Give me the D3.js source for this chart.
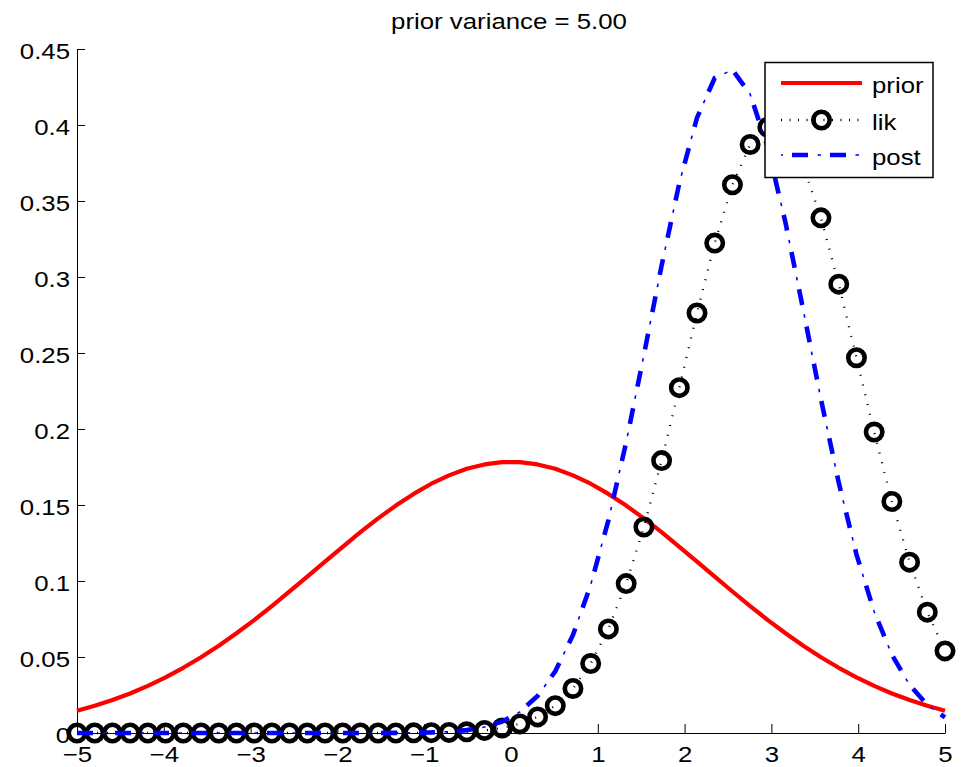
<!DOCTYPE html>
<html>
<head>
<meta charset="utf-8">
<script src="https://cdn.jsdelivr.net/npm/d3@7"></script>
<style>
  html, body { margin: 0; padding: 0; background: #fff; }
  svg { display: block; }
  text { font-family: "Liberation Sans", Arial, Helvetica, sans-serif; fill: #000; }
</style>
</head>
<body>
<svg id="chart" width="966" height="767"></svg>
<script>
// grid of 50 points from -5 to 5
const xGrid = [-5, -4.796, -4.592, -4.388, -4.184, -3.980, -3.776, -3.571, -3.367, -3.163,
  -2.959, -2.755, -2.551, -2.347, -2.143, -1.939, -1.735, -1.531, -1.327, -1.122,
  -0.918, -0.714, -0.510, -0.306, -0.102, 0.102, 0.306, 0.510, 0.714, 0.918,
  1.122, 1.327, 1.531, 1.735, 1.939, 2.143, 2.347, 2.551, 2.755, 2.959,
  3.163, 3.367, 3.571, 3.776, 3.980, 4.184, 4.388, 4.592, 4.796, 5];

const priorVals = [0.0146, 0.0179, 0.0217, 0.0260, 0.0310, 0.0366, 0.0429, 0.0498, 0.0574, 0.0656,
  0.0743, 0.0835, 0.0931, 0.1029, 0.1127, 0.1225, 0.1321, 0.1412, 0.1496, 0.1573,
  0.1640, 0.1695, 0.1738, 0.1767, 0.1782, 0.1782, 0.1767, 0.1738, 0.1695, 0.1640,
  0.1573, 0.1496, 0.1412, 0.1321, 0.1225, 0.1127, 0.1029, 0.0931, 0.0835, 0.0743,
  0.0656, 0.0574, 0.0498, 0.0429, 0.0366, 0.0310, 0.0260, 0.0217, 0.0179, 0.0146];

const likVals = [0, 0, 0, 0, 0, 0, 0, 0, 0, 0,
  0, 0, 0, 0, 0, 0, 0, 0, 0, 0.0001,
  0.0002, 0.0004, 0.0008, 0.0017, 0.0033, 0.0060, 0.0106, 0.0180, 0.0293, 0.0457,
  0.0685, 0.0983, 0.1355, 0.1792, 0.2272, 0.2763, 0.3223, 0.3607, 0.3872, 0.3986,
  0.3937, 0.3729, 0.3389, 0.2953, 0.2469, 0.1980, 0.1523, 0.1124, 0.0795, 0.0540];

const postVals = [0, 0, 0, 0, 0, 0, 0, 0, 0, 0,
  0, 0, 0, 0, 0, 0, 0, 0, 0.0001, 0.0002,
  0.0004, 0.0009, 0.0019, 0.0039, 0.0075, 0.0139, 0.0243, 0.0406, 0.0645, 0.0974,
  0.1399, 0.1913, 0.2487, 0.3075, 0.3617, 0.4048, 0.4309, 0.4363, 0.4203, 0.3851,
  0.3356, 0.2783, 0.2195, 0.1647, 0.1175, 0.0798, 0.0515, 0.0316, 0.0185, 0.0103];

const seriesNames = ["prior", "lik", "post"];
const titleText = "prior variance = 5.00";

const xTicks = [-5, -4, -3, -2, -1, 0, 1, 2, 3, 4, 5];
const xTickLabels = ["\u22125", "\u22124", "\u22123", "\u22122", "\u22121", "0", "1", "2", "3", "4", "5"];
const yTicks = [0, 0.05, 0.1, 0.15, 0.2, 0.25, 0.3, 0.35, 0.4, 0.45];
const yTickLabels = ["0", "0.05", "0.1", "0.15", "0.2", "0.25", "0.3", "0.35", "0.4", "0.45"];

const fontSize = 21.5;
const stretch = 1.2;   // text in the picture is wider than tall

const svg = d3.select("#chart");
svg.append("rect").attr("width", 966).attr("height", 767).attr("fill", "#fff");

const x = d3.scaleLinear().domain([-5, 5]).range([77, 945]);
const y = d3.scaleLinear().domain([0, 0.45]).range([733, 49]);

const pts = (vals) => xGrid.map((xv, i) => ({x: xv, v: vals[i]}));
const line = d3.line().x(d => x(d.x)).y(d => y(d.v));

// axes
const gx = svg.append("g")
    .attr("transform", `translate(0,${y(0)})`)
    .call(d3.axisBottom(x)
        .tickValues(xTicks)
        .tickFormat((d, i) => xTickLabels[i])
        .tickSizeInner(-9)
        .tickSizeOuter(0)
        .tickPadding(14));
const gy = svg.append("g")
    .attr("transform", `translate(${x(-5)},0)`)
    .call(d3.axisLeft(y)
        .tickValues(yTicks)
        .tickFormat((d, i) => yTickLabels[i])
        .tickSizeInner(-8)
        .tickSizeOuter(0)
        .tickPadding(0));

[gx, gy].forEach(g => {
    g.attr("font-family", null).attr("font-size", null);
    g.select(".domain").attr("stroke", "#000").attr("stroke-width", 1);
    g.selectAll(".tick line").attr("stroke", "#000").attr("stroke-width", 1);
    g.selectAll(".tick text")
        .style("font-size", fontSize + "px")
        .attr("fill", "#000")
        .attr("transform", `scale(${stretch},1)`);
});
gy.selectAll(".tick text").attr("x", -7 / stretch).attr("dy", "0.42em");

// prior
svg.append("path")
    .datum(pts(priorVals))
    .attr("d", line)
    .attr("fill", "none")
    .attr("stroke", "#ff0000")
    .attr("stroke-width", 4.2)
    .attr("stroke-linejoin", "round");

// likelihood: dotted line with circles
svg.append("path")
    .datum(pts(likVals))
    .attr("d", line)
    .attr("fill", "none")
    .attr("stroke", "#000")
    .attr("stroke-width", 2.3)
    .attr("stroke-dasharray", "1,9");

svg.append("g").selectAll("circle")
    .data(pts(likVals))
    .join("circle")
    .attr("cx", d => x(d.x))
    .attr("cy", d => y(d.v))
    .attr("r", 8.2)
    .attr("fill", "none")
    .attr("stroke", "#000")
    .attr("stroke-width", 4.6);

// posterior: dash-dot, thick dashes with thin dots
function dashDot(g, d, offset) {
    g.append("path")
        .attr("d", d)
        .attr("fill", "none")
        .attr("stroke", "#0000ff")
        .attr("stroke-width", 4.6)
        .attr("stroke-dasharray", "16,22")
        .attr("stroke-dashoffset", offset);
    g.append("path")
        .attr("d", d)
        .attr("fill", "none")
        .attr("stroke", "#0000ff")
        .attr("stroke-width", 1.6)
        .attr("stroke-dasharray", "0,25.5,3.5,9")
        .attr("stroke-dashoffset", offset);
}
dashDot(svg.append("g"), line(pts(postVals)), 0);

// title
svg.append("text")
    .attr("transform", `translate(509,29) scale(${stretch},1)`)
    .attr("text-anchor", "middle")
    .style("font-size", fontSize + "px")
    .text(titleText);

// legend
const leg = svg.append("g");
leg.append("rect")
    .attr("x", 765).attr("y", 62.5)
    .attr("width", 168).attr("height", 115)
    .attr("fill", "#fff")
    .attr("stroke", "#000")
    .attr("stroke-width", 1.5);

const legY = [83, 120, 155];
const lx0 = 781, lx1 = 862;

leg.append("line")
    .attr("x1", lx0).attr("x2", lx1)
    .attr("y1", legY[0]).attr("y2", legY[0])
    .attr("stroke", "#ff0000").attr("stroke-width", 4.2);

leg.append("line")
    .attr("x1", lx0).attr("x2", lx1)
    .attr("y1", legY[1]).attr("y2", legY[1])
    .attr("stroke", "#000").attr("stroke-width", 2.3)
    .attr("stroke-dasharray", "1,7.5");
leg.append("circle")
    .attr("cx", (lx0 + lx1) / 2).attr("cy", legY[1])
    .attr("r", 8.2)
    .attr("fill", "none")
    .attr("stroke", "#000")
    .attr("stroke-width", 4.6);

dashDot(leg, `M${lx0},${legY[2]}H${lx1}`, 27);

leg.selectAll("text.lbl")
    .data(seriesNames)
    .join("text")
    .attr("class", "lbl")
    .attr("transform", (d, i) => `translate(872,${legY[i] + 10}) scale(${stretch},1)`)
    .style("font-size", fontSize + "px")
    .text(d => d);
</script>
</body>
</html>
